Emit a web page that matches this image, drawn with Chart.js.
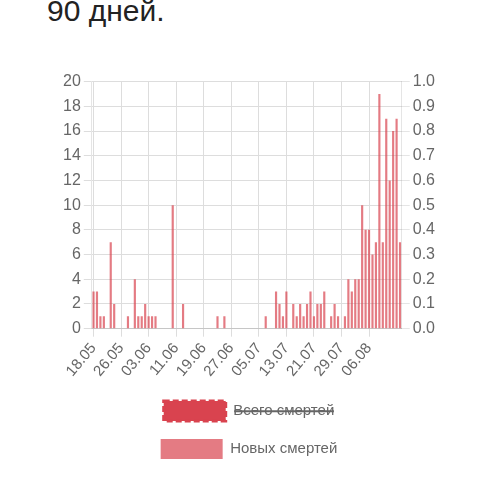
<!DOCTYPE html>
<html>
<head>
<meta charset="utf-8">
<script src="https://cdn.jsdelivr.net/npm/chart.js@4"></script>
<style>
body { margin: 0; background: #fff; font-family: "Liberation Sans", Arial, sans-serif; }
#title { position: absolute; left: 47px; top: -6px; font-size: 30px; color: #222; }
#wrap { position: absolute; left: 60px; top: 69px; width: 378px; height: 400px; }
</style>
</head>
<body>
<div id="title">90 дней.</div>
<div id="wrap"><canvas id="chart"></canvas></div>
<script>
// daily new deaths, 18.05 .. 15.08 (90 days)
const newDeaths = [
  3, 3, 1, 1, 0, 7, 2, 0, 0, 0, 1, 0, 4, 1, 1, 2, 1, 1, 1, 0,
  0, 0, 0, 10, 0, 0, 2, 0, 0, 0, 0, 0, 0, 0, 0, 0, 1, 0, 1, 0,
  0, 0, 0, 0, 0, 0, 0, 0, 0, 0, 1, 0, 0, 3, 2, 1, 3, 0, 2, 1,
  2, 1, 2, 3, 1, 2, 2, 3, 0, 1, 2, 1, 0, 1, 4, 3, 4, 4, 10, 8,
  8, 6, 7, 19, 7, 17, 12, 16, 17, 7
];
const totalDeaths = newDeaths.map(() => 0);

const labels = [];
const start = new Date(2020, 4, 18);
for (let i = 0; i < newDeaths.length; i++) {
  const d = new Date(start.getTime() + i * 86400000);
  labels.push(String(d.getDate()).padStart(2, '0') + '.' + String(d.getMonth() + 1).padStart(2, '0'));
}

Chart.defaults.font.family = '"Liberation Sans", Arial, sans-serif';
Chart.defaults.color = '#666';

new Chart(document.getElementById('chart').getContext('2d'), {
  type: 'bar',
  data: {
    labels: labels,
    datasets: [{
      type: 'line',
      label: 'Всего смертей',
      data: totalDeaths,
      yAxisID: 'y1',
      hidden: true,
      borderColor: '#d9434f',
      backgroundColor: '#d9434f',
      borderDash: [6, 3]
    }, {
      label: 'Новых смертей',
      data: newDeaths,
      yAxisID: 'y',
      backgroundColor: 'rgba(217, 67, 79, 0.7)',
      categoryPercentage: 0.9,
      barPercentage: 0.7
    }]
  },
  options: {
    responsive: true,
    maintainAspectRatio: false,
    animation: false,
    plugins: {
      legend: {
        position: 'bottom',
        labels: { boxWidth: 62, boxHeight: 20, font: { size: 15 }, padding: 18, color: '#666' }
      },
      tooltip: { enabled: false }
    },
    scales: {
      x: {
        offset: true,
        grid: { color: '#ddd', offset: false },
        ticks: {
          autoSkip: false,
          maxRotation: 50,
          minRotation: 50,
          font: { size: 15 },
          callback: function(v, i) { return (i % 8 === 0 && i < 88) ? labels[i] : null; }
        }
      },
      y: {
        position: 'left',
        min: 0, max: 20,
        ticks: { stepSize: 2, font: { size: 16 } },
        grid: { color: '#ddd' }
      },
      y1: {
        position: 'right',
        min: 0, max: 1,
        ticks: { stepSize: 0.1, font: { size: 16 }, callback: v => v.toFixed(1) },
        grid: { drawOnChartArea: false }
      }
    }
  }
});
</script>
</body>
</html>
